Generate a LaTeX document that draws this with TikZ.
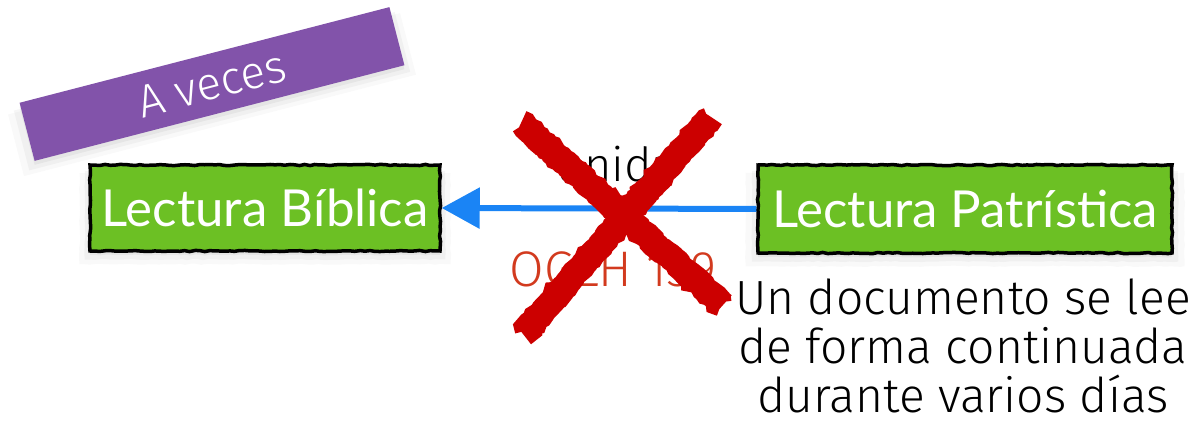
\documentclass[tikz,border=0pt]{standalone}
\usepackage{fontspec}
\usepackage{xcolor}
\setmainfont{Lato}
\newfontfamily\thinfont{Fira Sans Light}
\usetikzlibrary{arrows.meta,decorations.pathmorphing,shapes,shadows}

\definecolor{lecgreen}{HTML}{6CC024}
\definecolor{banpurple}{HTML}{8253AA}
\definecolor{arrblue}{HTML}{1A84F5}
\definecolor{xred}{HTML}{CC0000}
\definecolor{oglhred}{HTML}{D23A1E}

\tikzset{
  softshadow/.style = {
    drop shadow = {shadow xshift = 0pt, shadow yshift = -4pt, shadow scale = 1.00, opacity = 0.10},
    drop shadow = {shadow xshift = 0pt, shadow yshift = -7pt, shadow scale = 1.03, opacity = 0.07},
    drop shadow = {shadow xshift = 0pt, shadow yshift = -10pt, shadow scale = 1.06, opacity = 0.05}},
  lectura/.style = {rectangle, fill = lecgreen, draw = black, line width = 3.5pt,
    text = white, font = \fontsize{51}{55}\selectfont, softshadow,
    decorate, decoration = {random steps, segment length = 5pt, amplitude = 0.6pt}},
  banner/.style = {rectangle, fill = banpurple, text = white, softshadow,
    font = \thinfont\fontsize{46}{50}\selectfont},
  thin/.style = {font = \thinfont\fontsize{#1}{#1}\selectfont}
}

\begin{document}
\begin{tikzpicture}[x = 1pt, y = -1pt]
\useasboundingbox (0,0) rectangle (1201,435);

\node[banner, rotate = 14.5, minimum width = 382, minimum height = 60] (aveces) at (212,84) {A veces};

\node[lectura, minimum width = 350, minimum height = 86] (nbib) at (265,208) {Lectura Bíblica};
\node[lectura, minimum width = 414, minimum height = 88] (npat) at (965,209) {Lectura Patrística};

\draw[arrblue, line width = 6pt, -{Triangle[length = 38pt, width = 40pt]}] (npat.west) -- (nbib.east);

\node[thin = 47, anchor = base] (unida) at (617,182) {unida};
\node[thin = 50, text = oglhred, anchor = base] (oglh) at (613,287) {OGLH 159};

\node[thin = 48, align = center, anchor = north, inner sep = 0pt] (doc) at (963,279)
  {Un documento se lee\\[1pt] de forma continuada\\[1pt] durante varios días};

% la cruz
\coordinate (xa1) at (521,123);
\coordinate (xa2) at (723,305);
\coordinate (xb1) at (711,117);
\coordinate (xb2) at (523,334);
\draw[xred, line width = 26pt, decorate, decoration = {random steps, segment length = 3pt, amplitude = 1.2pt}] (xa1) -- (xa2);
\draw[xred, line width = 26pt, decorate, decoration = {random steps, segment length = 3pt, amplitude = 1.2pt}] (xb1) -- (xb2);

\end{tikzpicture}
\end{document}
